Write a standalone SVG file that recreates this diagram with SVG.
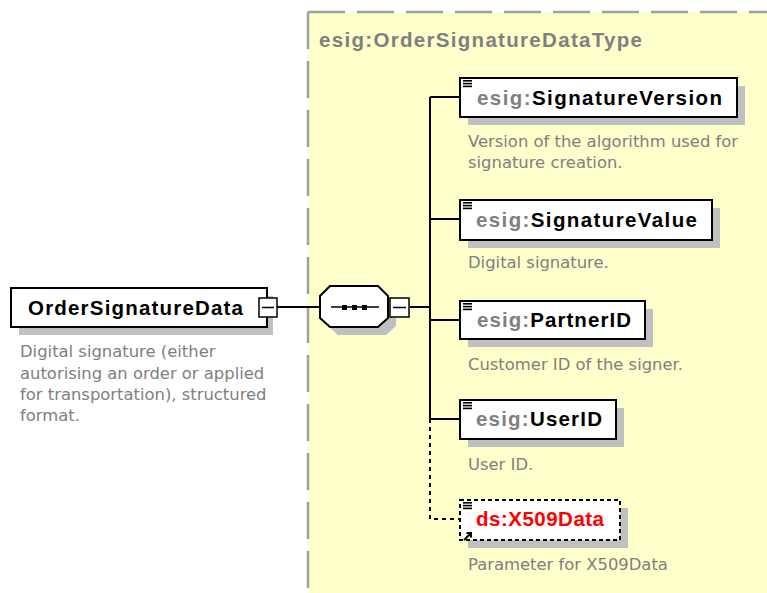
<svg xmlns="http://www.w3.org/2000/svg" width="767" height="593" viewBox="0 0 767 593">
<style>
.lbl{font-family:"Liberation Sans",Arial,sans-serif;font-weight:bold;font-size:20.5px;fill:#000}
.ttl{font-family:"Liberation Sans",Arial,sans-serif;font-weight:bold;font-size:20.5px;fill:#808080}
.ns{fill:#808080}
.ref{fill:#FF0000}
.desc{font-family:"DejaVu Sans",Verdana,sans-serif;font-size:16.4px;fill:#808080}
.box{fill:#fff;stroke:#000;stroke-width:2}
.dbox{fill:#fff;stroke:#000;stroke-width:2;stroke-dasharray:4 3}
.shadow{fill:#C0C0C0}
.con{stroke:#000;stroke-width:2;fill:none}
.dcon{stroke:#000;stroke-width:2;fill:none;stroke-dasharray:4 4}
</style>
<defs>
<g id="lines"><rect x="0" y="0" width="9" height="1.6" fill="#000"/><rect x="0" y="2.8" width="9" height="1.6" fill="#000"/><rect x="0" y="5.6" width="9" height="1.6" fill="#000"/></g>
</defs>
<rect width="767" height="593" fill="#fff"/>
<g id="complexType">
<rect x="308" y="12" width="470" height="600" fill="#FFFFCC"/>
<path d="M308 12 H767 M308 12 V593" stroke="#A0A0A0" stroke-width="2.5" stroke-dasharray="37 12" fill="none"/>
<text x="319" y="47" class="ttl" textLength="323" lengthAdjust="spacing">esig:OrderSignatureDataType</text>
</g>
<g id="connectors">
<path class="con" d="M277 307 H320"/>
<path class="con" d="M410 307 H430"/>
<path class="con" d="M430 97 V419"/>
<path class="con" d="M430 97 H460 M430 219 H460 M430 320 H460 M430 419 H460"/>
<path class="dcon" d="M430 419 V519 H460"/>
</g>
<g id="OrderSignatureData">
<rect class="shadow" x="19" y="296" width="254" height="39"/>
<rect class="box" x="11" y="288" width="256" height="39"/>
<text x="28" y="315" class="lbl" textLength="215" lengthAdjust="spacing">OrderSignatureData</text>
<rect x="259" y="298" width="18" height="19" fill="#fff" stroke="#000" stroke-width="1.5"/>
<path d="M262 307.5 H274" stroke="#000" stroke-width="1.5"/>
<text class="desc"><tspan x="20" y="357">Digital signature (either</tspan><tspan x="20" y="379">autorising an order or applied</tspan><tspan x="20" y="400">for transportation), structured</tspan><tspan x="20" y="421">format.</tspan></text>
</g>
<g id="sequence">
<path d="M338 294 H386 L396 304 V326 L386 335 H338 L328 326 V304 Z" fill="#C0C0C0"/>
<path d="M330 286 H378 L388 296 V318 L378 327 H330 L320 318 V296 Z" fill="#fff" stroke="#000" stroke-width="2"/>
<path d="M331 307 H379" stroke="#000" stroke-width="1.5"/>
<rect x="342" y="305" width="5" height="5" fill="#000"/>
<rect x="352" y="305" width="5" height="5" fill="#000"/>
<rect x="362" y="305" width="5" height="5" fill="#000"/>
<rect x="390" y="298" width="19" height="19" fill="#fff" stroke="#000" stroke-width="1.5"/>
<path d="M393 307.5 H406" stroke="#000" stroke-width="1.5"/>
</g>
<g id="SignatureVersion">
<rect class="shadow" x="468" y="86" width="277" height="39"/>
<rect class="box" x="460" y="78" width="277" height="39"/>
<use href="#lines" x="463" y="80"/>
<text x="477" y="105" class="lbl" textLength="245" lengthAdjust="spacing"><tspan class="ns">esig:</tspan>SignatureVersion</text>
<text class="desc"><tspan x="468" y="147">Version of the algorithm used for</tspan><tspan x="468" y="168">signature creation.</tspan></text>
</g>
<g id="SignatureValue">
<rect class="shadow" x="468" y="208" width="252" height="40"/>
<rect class="box" x="460" y="200" width="252" height="40"/>
<use href="#lines" x="463" y="202"/>
<text x="476" y="227" class="lbl" textLength="221" lengthAdjust="spacing"><tspan class="ns">esig:</tspan>SignatureValue</text>
<text x="468" y="268" class="desc">Digital signature.</text>
</g>
<g id="PartnerID">
<rect class="shadow" x="468" y="309" width="185" height="38"/>
<rect class="box" x="460" y="301" width="185" height="38"/>
<use href="#lines" x="463" y="303"/>
<text x="477" y="327" class="lbl" textLength="154" lengthAdjust="spacing"><tspan class="ns">esig:</tspan>PartnerID</text>
<text x="468" y="370" class="desc">Customer ID of the signer.</text>
</g>
<g id="UserID">
<rect class="shadow" x="468" y="408" width="156" height="39"/>
<rect class="box" x="460" y="400" width="156" height="39"/>
<use href="#lines" x="463" y="402"/>
<text x="476" y="426" class="lbl" textLength="126" lengthAdjust="spacing"><tspan class="ns">esig:</tspan>UserID</text>
<text x="468" y="470" class="desc">User ID.</text>
</g>
<g id="X509Data">
<rect class="shadow" x="468" y="508" width="160" height="40"/>
<rect class="dbox" x="460" y="500" width="160" height="40"/>
<use href="#lines" x="463" y="502"/>
<path d="M464 540 L471 533 M466.5 533 H471 V537.5" stroke="#000" stroke-width="2" fill="none"/>
<text x="476" y="526" class="lbl ref" textLength="128" lengthAdjust="spacing">ds:X509Data</text>
<text x="468" y="570" class="desc">Parameter for X509Data</text>
</g>
</svg>
